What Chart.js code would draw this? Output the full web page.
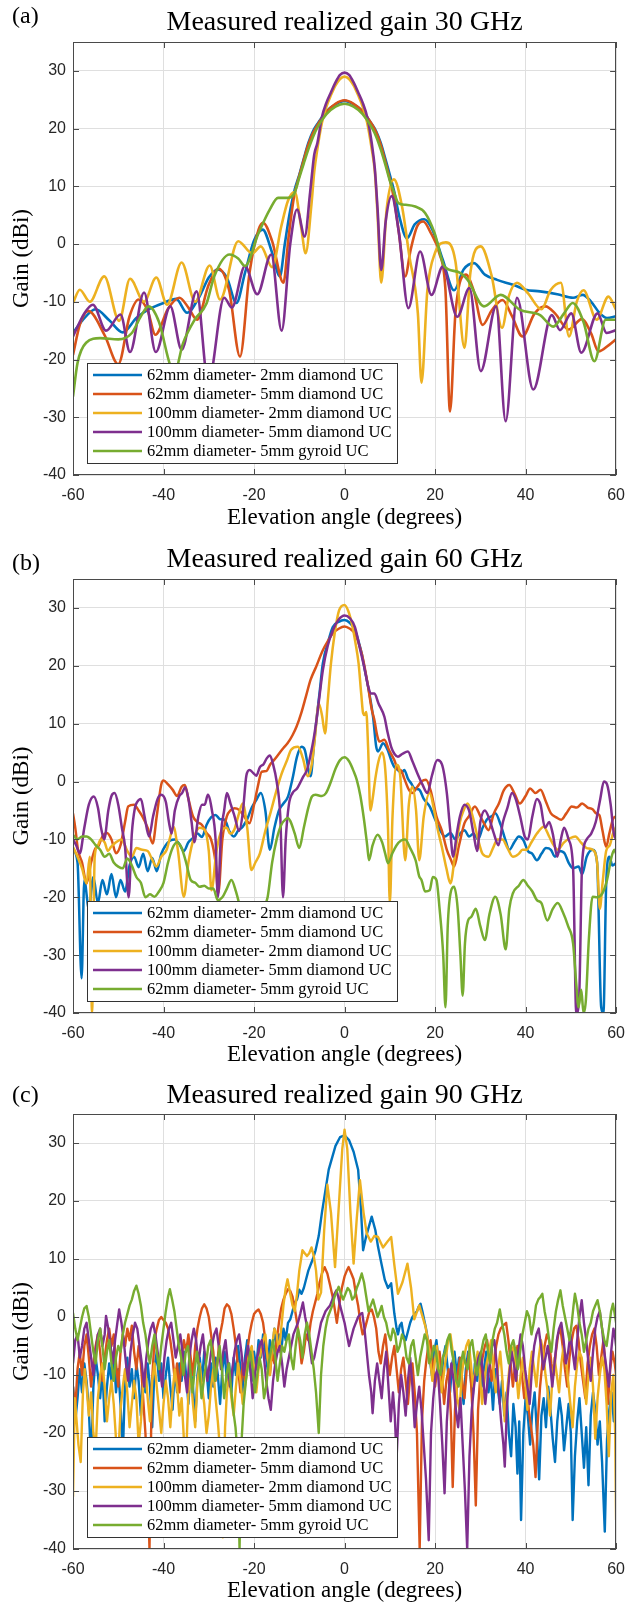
<!DOCTYPE html>
<html>
<head>
<meta charset="utf-8">
<script src="https://cdn.jsdelivr.net/npm/chart.js@4.4.1/dist/chart.umd.min.js"></script>
<style>
html,body{margin:0;padding:0;background:#fff;}
.panel{position:relative;width:636px;}
#wa{height:537px;} #wb{height:536px;} #wc{height:531px;}
canvas{display:block;}
</style>
</head>
<body>
<div class="panel" id="wa"><canvas id="ca"></canvas></div>
<div class="panel" id="wb"><canvas id="cb"></canvas></div>
<div class="panel" id="wc"><canvas id="cc"></canvas></div>
<script>
// ---------- labels, colours, ticks ----------
const SERIES_LABELS = [
  '62mm diameter- 2mm diamond UC',
  '62mm diameter- 5mm diamond UC',
  '100mm diameter- 2mm diamond UC',
  '100mm diameter- 5mm diamond UC',
  '62mm diameter- 5mm gyroid UC'
];
const SERIES_COLORS = ['#0072BD', '#D95319', '#EDB120', '#7E2F8E', '#77AC30'];
const X_TICKS = [-60, -40, -20, 0, 20, 40, 60];
const Y_TICKS = [-40, -30, -20, -10, 0, 10, 20, 30];
const PANEL_TITLES = ['Measured realized gain 30 GHz', 'Measured realized gain 60 GHz', 'Measured realized gain 90 GHz'];
const PANEL_LETTERS = ['(a)', '(b)', '(c)'];
const X_LABEL = 'Elevation angle (degrees)';
const Y_LABEL = 'Gain (dBi)';

// ---------- (a) 30 GHz : [angle, gain] ----------
const A_BLUE = [[-60,-15.4],[-58,-13.3],[-55,-11.3],[-52,-13.2],[-49,-15.3],[-46,-12.8],[-43,-11.2],[-40,-10.2],[-37.2,-9.5],[-34.8,-11.9],[-32,-9],[-30,-5.8],[-28,-4.4],[-26,-5.8],[-23.9,-10.2],[-22,-5],[-20,0.6],[-18.1,2.5],[-16,-1.5],[-14.3,-5.6],[-13.2,0],[-12.2,5],[-11,9.5],[-10,12],[-9,14.8],[-8,17.5],[-7,19.5],[-6,20.8],[-4,23],[-2,24.2],[0,24.8],[2,24.2],[4,23],[6,20.8],[7,19.5],[8,17.5],[9,14.8],[10,12],[11,9],[12.1,4.8],[13.8,1],[15.5,3.4],[17.6,4.3],[19.4,2.5],[21.7,-2.7],[24.2,-8],[26.3,-4.4],[28.6,-3.3],[31,-5.3],[33.7,-6.2],[37.4,-7.1],[40,-7.9],[43.2,-8.2],[47,-8.7],[50.5,-9.3],[52.6,-8.8],[54.5,-10],[56.3,-11.9],[58,-12.8],[60,-12.5]];
const A_RED = [[-60,-19.2],[-58.5,-14],[-56.6,-11.6],[-53,-15.8],[-50,-20.8],[-47.5,-12.5],[-45.5,-9.6],[-43.5,-11.5],[-41.8,-15.7],[-39,-11.2],[-36.5,-9.3],[-34.5,-11],[-32.6,-13.1],[-30,-7],[-27.8,-4.3],[-25.5,-8],[-23.1,-19.5],[-21,-5],[-19,2.5],[-18,3.7],[-16,0.5],[-13.5,-6.7],[-12.4,1],[-11.2,8],[-10,11.8],[-9,14.6],[-8,17.2],[-7,19.2],[-6,20.6],[-4,22.9],[-2,24.3],[0,24.9],[2,24.3],[4,23],[6,20.8],[7,19.3],[8,17.2],[9,14.3],[10,11.2],[11,7.5],[12,2],[13.4,-5.6],[14.6,-1],[16,3],[17.4,3.9],[19,2],[20.9,-1.5],[22.3,-8],[23.3,-29],[24.5,-12],[26.8,-5.3],[28.5,-8],[30.5,-14],[32.5,-11.5],[34.9,-9.7],[37,-12.5],[39.3,-16],[42,-12],[44.4,-10.8],[46.5,-12],[49.5,-14.8],[52.4,-13],[54.5,-15.5],[56.1,-18.6],[58.4,-17.5],[60,-16.5]];
const A_YELLOW = [[-60,-10.2],[-58.5,-7.9],[-56.3,-10],[-53.1,-5.6],[-49.8,-13.3],[-47.4,-6],[-44.3,-10],[-41.6,-5.8],[-39.2,-10.5],[-36,-3.2],[-33,-10],[-29.8,-3.7],[-27.5,-9.6],[-23.5,0.5],[-20.4,-1.6],[-18.5,-0.4],[-16,-4],[-14,3],[-12.5,7.5],[-11,9],[-9.6,3],[-8.6,-1.6],[-7.3,7],[-6.7,12.5],[-6,16.5],[-5,21],[-4,23.8],[-3,25.8],[-2,27.5],[-1,28.6],[0,29],[1,28.6],[2,27.5],[3,25.8],[4,23.8],[5,21],[6,16.5],[6.7,12.5],[7.3,5],[8.1,-6.7],[9.3,6],[10.9,11.2],[12.7,6.5],[14.3,-2],[16.2,-12],[17,-24],[18.3,-8],[20,-1.5],[22.4,0.3],[24.5,-3],[26.5,-18],[27.8,-5],[30.1,-0.4],[32.5,-5.5],[34.8,-14.5],[36.3,-9],[38.1,-6.7],[40.5,-8.5],[43.5,-11.3],[45.5,-8],[47.8,-6.7],[49.6,-16],[51.3,-10],[52.8,-8],[55.7,-13.1],[58.3,-9.1],[60,-11.4]];
const A_PURPLE = [[-60,-16],[-57.5,-12],[-55.6,-10.5],[-52.7,-15],[-49.5,-12.2],[-47.4,-18.7],[-44.3,-8.4],[-41.7,-18.7],[-38.5,-10.8],[-36,-18.3],[-32.7,-8.2],[-30.1,-24],[-26.6,-9.3],[-24.9,-11],[-22,-3.8],[-19.3,-8.7],[-16.2,-1.8],[-13.9,-15],[-12,0],[-10.5,6],[-8.8,1.3],[-7.6,9],[-6.7,15.5],[-6,17.5],[-5,22],[-4,24.5],[-3,26.3],[-2,28],[-1,29.3],[0,29.7],[1,29.3],[2,28],[3,26.3],[4,24.5],[5,22],[6,17.5],[6.7,13],[7.3,6],[8.1,-4.5],[9.1,4],[10.4,8.3],[12,2],[14.1,-11.1],[16.7,-1.3],[19.2,-8.8],[21.7,-3.9],[24.9,-12.6],[27.6,-7.6],[30.1,-22],[33.5,-10.8],[35.6,-30.7],[38.1,-9.3],[41.7,-25.2],[45.8,-12.3],[47.6,-14.9],[50.1,-12],[52.3,-18.8],[55.9,-12],[57.9,-15.4],[60,-14.9]];
const A_GREEN = [[-60,-26.4],[-59,-20.6],[-57.1,-17.1],[-54,-16.3],[-50,-16.5],[-47,-15.4],[-45,-12.5],[-43.3,-10.8],[-41,-13.5],[-38.5,-21],[-37.5,-22],[-35.7,-17.2],[-33.1,-13.1],[-30.5,-10.3],[-28.8,-5.6],[-25.4,-1.8],[-23.5,-2.5],[-22,-3.8],[-19,1.9],[-16.5,6],[-14.7,8],[-12.5,8],[-11.2,8.6],[-10,11.5],[-9,14],[-8,16.4],[-7,18.5],[-6,20.2],[-4,22.5],[-2,23.8],[0,24.3],[2,23.8],[4,22.5],[6,20.2],[7,18.6],[8,16.4],[9,13.8],[10,11],[11,8.8],[11.9,7.1],[13.5,6.8],[15.6,6.5],[17.8,5.4],[19.9,1.9],[22.1,-3.9],[25,-4.8],[27.2,-6.2],[30.8,-10.8],[34.5,-8.8],[38.8,-11.4],[43.2,-12.3],[46.1,-14.3],[48.5,-12],[50.4,-10.2],[52.8,-13.5],[55.2,-20.3],[57.7,-13.1],[60,-13.1]];

// ---------- (b) 60 GHz : [angle, gain] ----------
const B_BLUE = [[-60,-11.8],[-59,-14],[-58.1,-34],[-57.5,-17],[-56.5,-22],[-55.5,-16.5],[-54.5,-21],[-53.5,-17],[-52.5,-19.5],[-51.5,-16],[-50.5,-20],[-49.5,-17],[-48.5,-19],[-47.5,-14.5],[-46.5,-13],[-45.5,-14.8],[-44.5,-12.5],[-43.5,-15.5],[-42.5,-13.2],[-41.5,-15.5],[-40.5,-12.5],[-39.5,-11],[-38.5,-10.2],[-37.5,-10],[-36.5,-10.8],[-35.5,-12],[-34.5,-10.5],[-33.5,-9.8],[-32.5,-9],[-31.5,-9.6],[-30.5,-7.5],[-29.5,-6.2],[-28.5,-5.8],[-27.5,-6.5],[-26.5,-6.6],[-25.5,-8.5],[-24.5,-9.5],[-23.5,-8.5],[-22.5,-7.8],[-21.5,-6.5],[-20.5,-4.5],[-19.5,-3.2],[-18.5,-2],[-17.5,-5],[-16.5,-11.8],[-15.5,-8],[-14.5,-5],[-13.5,-3.8],[-12.5,-2.6],[-11.5,0.5],[-10.5,4.3],[-9.5,6],[-8.8,5.5],[-7.5,0.9],[-6.8,6],[-6.3,10],[-5.5,15.5],[-4.8,20.4],[-3.5,24.5],[-2.6,26.7],[-1.3,27.6],[0,27.9],[1.2,27.4],[2.3,26.2],[3,24.5],[3.8,22.1],[4.5,19.2],[5.2,16.4],[6.3,11.2],[7,6],[7.4,5.2],[8.5,6.6],[9.5,5.5],[10.3,3.7],[11,2.5],[11.8,2],[12.5,1.5],[13.2,2],[14,0.5],[14.7,-0.3],[15.5,-1.2],[16.5,-1.4],[17.5,-3],[18.8,-4.3],[20,-6.5],[21.1,-8.4],[22.2,-9.5],[23.4,-8.9],[24.5,-10],[25.5,-9],[26.5,-8.4],[27.5,-9.5],[28.5,-9],[29.5,-10],[30.5,-8],[31.5,-6.5],[32.5,-6],[33.3,-5.5],[34.5,-7.5],[35.5,-10],[36.4,-11.8],[37.5,-10.5],[38.5,-9.5],[39.5,-10.1],[40.5,-12],[41.5,-12.5],[42.5,-13.6],[43.5,-12.5],[44.5,-11.5],[45.6,-11.8],[46.5,-13],[47.5,-12],[48.6,-12.4],[49.5,-14],[50.5,-15],[51.7,-14.7],[52.5,-16],[53.5,-13],[54.8,-11.8],[55.8,-14],[56.7,-39],[57.2,-40],[57.8,-18],[58.5,-13],[59.2,-14.5],[60,-14.1]];
const B_RED = [[-60,-5.5],[-59.5,-8],[-58.9,-11.8],[-58,-14],[-57,-17.6],[-56,-14],[-55,-11.5],[-54.5,-11.3],[-53.5,-9.5],[-52.5,-8.9],[-51.5,-10],[-50.5,-12.4],[-49.5,-11],[-48.5,-7],[-47.8,-4.3],[-46.5,-4],[-45.5,-5],[-44.7,-6],[-43.5,-8],[-42.4,-10.7],[-41.5,-6],[-40.5,-0.5],[-40,0.2],[-39,-0.5],[-38,-1.4],[-37,-2.5],[-36,-0.9],[-35.3,-0.6],[-34.5,-3],[-33.5,-6],[-32.5,-7],[-31.5,-7.5],[-30.5,-8.9],[-29.5,-10],[-28.5,-14],[-27.9,-19.3],[-27,-10],[-26,-6],[-25.2,-5],[-24.3,-4.6],[-23.3,-4.9],[-22.2,-6],[-21,-7.2],[-20,-4],[-19.2,-1],[-18.3,1.7],[-17.3,1.8],[-16.4,3],[-15.6,3.7],[-14.5,4.8],[-13.5,5.8],[-12.6,6.6],[-11.5,8],[-10.6,9.5],[-9.5,12],[-8.5,14.8],[-7.5,17.6],[-6.3,19.8],[-4.8,22.7],[-3.5,24.5],[-2.6,25.6],[-1.3,26.4],[0,26.8],[1.2,26.4],[2.3,25.6],[3,24.2],[3.8,22.1],[4.5,19.5],[5.2,16.4],[6,12.5],[6.6,10.6],[7.2,8],[7.7,6.9],[8.8,7.2],[9.8,5.5],[11,3.7],[11.9,2],[12.4,2],[13.2,0.5],[14.2,-1.4],[15,-2],[16,-1],[17,0],[18,0.3],[19,-1.5],[20.3,-6],[21.5,-8.5],[22.6,-11.8],[23.5,-13.5],[24.2,-14.7],[25.3,-11],[26.5,-7.2],[27.5,-6],[28.8,-4.3],[30,-6],[31,-7.5],[31.8,-8.4],[33,-5.5],[34.1,-3.8],[35.2,-1.5],[36.4,-0.6],[37.5,-2],[38.7,-3.8],[40,-2.5],[41,-1.2],[42.2,-2],[43.3,-1.4],[44.5,-3.5],[45.6,-5.5],[46.8,-6.2],[47.9,-6.6],[49,-5.5],[50.2,-4.3],[51.3,-4.5],[52.5,-3.8],[53.7,-4.5],[54.8,-4.8],[55.6,-5.5],[56.3,-5.8],[57,-8.5],[57.8,-11.3],[58.5,-9],[59.3,-6.5],[60,-6]];
const B_YELLOW = [[-60,-11.3],[-59,-13],[-58,-15],[-57,-17.6],[-56.3,-13],[-55.8,-40],[-55.2,-13],[-54.5,-11],[-53.9,-10],[-53,-10.5],[-52.3,-12],[-51.6,-11.3],[-50.5,-10.5],[-49.3,-10],[-48,-12],[-47,-13],[-46,-11.5],[-44.7,-11.8],[-43.5,-12],[-42.5,-13.5],[-41.6,-14.7],[-40.5,-13],[-39.3,-11.8],[-38.5,-9.5],[-37.8,-7.8],[-36.8,-12],[-35.5,-19.9],[-34.5,-14],[-33.2,-9.5],[-32,-8],[-30.9,-8.4],[-30,-12],[-29.4,-18.8],[-28.3,-12],[-27.1,-8.4],[-26,-8],[-25.3,-9],[-24.4,-8.4],[-23.5,-6],[-22.5,-3.8],[-21.5,-8],[-20.6,-15.3],[-19.7,-14],[-18.7,-12.4],[-17.5,-8.5],[-16.4,-5.5],[-15.2,-2],[-14.1,0.9],[-13.6,2],[-12.8,3.5],[-11.8,5.5],[-10.3,6],[-9.2,4],[-8.1,0.9],[-7.2,3.2],[-6.5,8],[-5.7,13.5],[-5,11.5],[-4.3,8.3],[-3.7,14],[-3,20.4],[-2.2,25.5],[-1.2,29.6],[0,30.5],[0.8,29.5],[1.6,27.3],[2.4,24],[3.1,20.4],[3.7,15],[4.1,11.8],[4.4,11.5],[4.8,12],[5.2,6],[5.7,-5],[6.2,-3],[6.8,0.5],[7.5,3.5],[8.3,5],[9,2],[9.6,-8],[10,-21],[10.6,-6],[11.5,2.9],[12.3,1],[13.4,-13.6],[14.2,-4],[15,-0.9],[15.8,-5],[16.5,-13.6],[17.5,-6],[18.8,-2],[19.8,-5],[20.5,-8],[21.5,-11.3],[22.5,-15],[23.4,-17.6],[24.5,-12],[25.5,-7],[26.3,-5],[27.2,-3.8],[28.3,-6],[29.5,-10],[30.5,-12.5],[31.8,-13],[32.8,-11.5],[33.8,-10],[34.9,-10],[36,-11.5],[37.2,-13],[38.5,-12.5],[39.3,-11.8],[40.2,-11.8],[41.3,-10.5],[42.5,-9],[44,-7.8],[45.2,-9.5],[46.2,-11],[47.1,-11.8],[48.5,-10.5],[49.8,-9.8],[51,-9.5],[52.2,-10.5],[53.5,-11.5],[54.8,-11.8],[55.8,-14],[56.4,-22],[57,-17.6],[57.8,-12],[58.6,-11],[59.3,-9],[60,-7.8]];
const B_PURPLE = [[-60,-10],[-59.3,-11],[-58.5,-12.4],[-57.5,-8],[-56.5,-4],[-55.4,-2.6],[-54.5,-4.5],[-53.8,-8],[-53.1,-10],[-52.2,-5],[-51.5,-2.5],[-50.8,-2],[-50,-4],[-49.2,-8],[-48.5,-11.3],[-47.7,-20],[-47,-9],[-46.3,-4.5],[-45.8,-3.5],[-45,-3],[-44.2,-6],[-43.2,-9.5],[-42.3,-6],[-41.3,-3],[-40.5,-2.3],[-39.5,-3.5],[-38.8,-7],[-38.2,-9],[-37.5,-5],[-36.5,-2.5],[-35.9,-2],[-35.2,-1],[-34.5,-3],[-33.8,-7],[-33.2,-10.5],[-32.3,-6],[-31.5,-4],[-30.9,-4],[-30.2,-2.3],[-29.3,-5],[-28.5,-10],[-28,-20],[-27.3,-9],[-26.6,-5],[-26,-2],[-25.2,-3.8],[-24.3,-6],[-23.3,-8.5],[-22.5,-5.5],[-21.7,1],[-21,2],[-20.2,1.5],[-19.5,1],[-18.7,2.5],[-17.9,3],[-17.2,4],[-16.5,4.5],[-15.8,3],[-15,0],[-14.2,-6],[-13.6,-20],[-13,-10],[-12.3,-4],[-11.5,-2],[-10.5,-1.2],[-9.1,0.9],[-8.3,2],[-7.6,4.3],[-6.8,7.5],[-6.1,11.2],[-5.5,15],[-4.8,19.2],[-3.7,23.5],[-2.6,26.1],[-1.3,28],[0,28.7],[1.2,28.2],[2.3,26.7],[3.4,23],[4.5,19.2],[5.2,16.5],[5.9,15.2],[6.6,15.2],[7.5,13.5],[8.8,11.2],[9.5,8.5],[10.3,6],[11,4.8],[11.8,4.3],[12.8,4.8],[14,5.2],[15,3.5],[16.1,1.4],[17.2,-0.5],[18.3,-2],[19.3,1],[20.5,3.7],[21.5,3],[22.6,-2],[23.3,-8],[24,-13],[24.8,-9],[25.5,-6],[26.5,-4],[27.5,-5],[28.5,-9],[29.3,-12],[30,-7],[31,-5],[32,-6.5],[33,-9],[34,-11],[35,-7],[36,-4.5],[37,-2],[37.8,-3],[38.8,-6],[39.8,-9.5],[40.5,-10],[41.5,-6],[42.5,-3],[43.3,-4],[44.3,-8],[45.2,-7],[46,-9],[47,-13],[47.8,-10],[48.5,-8],[49.5,-10],[50.5,-15],[51.2,-40],[51.8,-38],[52.5,-14],[53.5,-10],[54.5,-9],[55.5,-7],[56.5,-3],[57.3,0],[58,-0.5],[58.8,-4],[59.5,-9],[60,-10]];
const B_GREEN = [[-60,-9.2],[-59,-10],[-58,-9.5],[-57,-9.5],[-56,-10],[-55,-11],[-54,-11.8],[-53,-13],[-52,-12.5],[-51,-14],[-50,-14.7],[-49,-15],[-48,-13.3],[-47,-14.5],[-46,-16.5],[-45,-17.5],[-44,-20],[-43,-19.5],[-42,-19.9],[-41,-19],[-40,-17.5],[-39,-14],[-38,-11.5],[-37,-10.5],[-36,-11.5],[-35,-14],[-34,-17],[-33,-17.5],[-32,-18.2],[-31,-18],[-30,-18.5],[-29,-18.5],[-28,-20.5],[-27,-20],[-26,-18.5],[-25,-17],[-24,-19],[-23,-22],[-22,-25],[-21,-25],[-20,-24],[-19,-23],[-18,-22],[-17,-20],[-16,-14],[-15,-10],[-14,-7.5],[-13,-6.5],[-12.5,-6.3],[-12,-6.8],[-11,-9],[-10,-11.5],[-9,-8],[-8,-4.5],[-7.2,-2.6],[-6.4,-2.3],[-5,-2.5],[-4.1,-2],[-3,0],[-2,2.2],[-1,3.7],[0,4.2],[1,3.5],[2,1.8],[2.7,0.3],[3.5,-2.5],[4.3,-6.6],[5,-11],[5.4,-13.6],[6.2,-11],[7.3,-9.2],[8.3,-10.5],[9,-12.5],[9.6,-14.1],[10.5,-12.5],[11.5,-11],[12.5,-10.2],[13.4,-10],[14.5,-11.5],[15.7,-13.6],[16.5,-16.4],[17,-17],[17.8,-19],[18.8,-18.8],[19.5,-16.5],[20.3,-17],[21,-22],[21.8,-30],[22.3,-39],[22.8,-25],[23.5,-19],[24.2,-18.2],[25,-22],[25.6,-30],[26.1,-37],[26.6,-28],[27.3,-24],[28,-23.4],[29,-22],[30,-25],[31,-27.4],[32,-23],[33.3,-19.9],[34.5,-23],[35.6,-29],[36.4,-22],[37.2,-19.3],[38.5,-18],[39.5,-17],[40.5,-18],[41.5,-19],[42.5,-20.5],[43.5,-21],[44.8,-24],[46,-22],[47.1,-21],[48.2,-22.5],[49.4,-25],[50.5,-28],[51.2,-35],[51.7,-39],[52.3,-36],[52.8,-40],[53.3,-38],[54,-27],[54.8,-19.9],[55.8,-20],[57,-19.3],[58,-17],[59,-13],[59.6,-11.8],[60,-12.5]];

// ---------- (c) 90 GHz : [angle, gain] ----------
const C_BLUE = [[-60,-12],[-59.5,-18],[-59,-14],[-58.5,-9],[-58,-13],[-57.5,-8],[-57,-11],[-56.5,-16],[-56,-25],[-55.5,-12],[-55,-7],[-54.5,-10],[-54,-14],[-53.5,-9],[-53,-18],[-52.5,-12],[-52,-8],[-51.5,-11],[-51,-6],[-50.5,-13],[-50,-9],[-49.5,-15],[-49,-24],[-48.5,-11],[-48,-7],[-47.5,-12],[-47,-9],[-46.5,-14],[-46,-8],[-45.5,-11],[-45,-17],[-44.5,-10],[-44,-13],[-43.5,-8],[-43,-12],[-42.5,-19],[-42,-9],[-41.5,-6],[-41,-11],[-40.5,-8],[-40,-14],[-39.5,-10],[-39,-7],[-38.5,-12],[-38,-16],[-37.5,-9],[-37,-13],[-36.5,-8],[-36,-11],[-35.5,-6],[-35,-10],[-34.5,-15],[-34,-9],[-33.5,-12],[-33,-18],[-32.5,-10],[-32,-7],[-31.5,-11],[-31,-6],[-30.5,-9],[-30,-14],[-29.5,-8],[-29,-12],[-28.5,-7],[-28,-10],[-27.5,-15],[-27,-9],[-26.5,-6],[-26,-11],[-25.5,-8],[-25,-13],[-24.5,-7],[-24,-10],[-23.5,-5],[-23,-9],[-22.5,-13],[-22,-7],[-21.5,-4],[-21,-8],[-20.5,-11],[-20,-6],[-19.5,-9],[-19,-4],[-18.5,-7],[-18,-3],[-17.5,-6],[-17,-9],[-16.5,-4],[-16,-6],[-15.5,-2],[-15,-5],[-14.5,-3],[-14,-6],[-13.5,-2],[-13,-4],[-12.5,-1],[-12,-0.4],[-11.5,1],[-11,2.5],[-10.5,3],[-10,4.7],[-9.5,4],[-9,5],[-8.5,6.5],[-8,8],[-7.5,9],[-7,10],[-6.4,11.5],[-5.7,14],[-5,18],[-3.5,25.4],[-2,29.5],[-1,31],[0,31.3],[1,30.5],[2,28.5],[3,25.4],[3.6,19],[4.1,11.5],[4.8,14],[6,17.3],[6.8,15],[7.4,12.1],[8.2,9],[8.9,6.4],[9.6,5],[10.3,5.8],[11,0.6],[11.5,-2],[11.8,-3],[12.2,-1.5],[12.6,-1],[13,-3],[13.5,-4],[14,-2.5],[14.5,-1],[15,0],[15.5,0.5],[16,1],[16.4,1.8],[16.8,2.3],[17.2,1],[17.6,-0.5],[18,-2],[18.3,-3.4],[18.8,-7],[19.3,-10],[19.8,-6],[20.3,-4],[20.8,-8],[21.3,-12],[21.8,-7],[22.3,-5],[22.8,-9],[23.3,-13],[23.8,-8],[24.3,-6],[24.8,-10],[25.3,-7],[25.8,-11],[26.3,-15],[26.8,-9],[27.3,-6],[27.8,-10],[28.3,-14],[28.8,-8],[29.3,-11],[29.8,-7],[30.3,-12],[30.8,-9],[31.3,-6],[31.8,-13],[32.3,-10],[32.8,-16],[33.3,-9],[33.8,-12],[34.3,-15],[34.8,-11],[35.3,-17],[35.8,-13],[36.3,-20],[36.8,-24],[37.3,-15],[37.8,-19],[38.2,-27],[38.6,-18],[39,-35],[39.5,-20],[40,-14],[40.5,-17],[41,-22],[41.5,-16],[42,-13],[42.5,-20],[43,-28],[43.5,-17],[44,-14],[44.5,-19],[45,-12],[45.5,-16],[46,-21],[46.5,-25],[47,-18],[47.5,-14],[48,-17],[48.5,-23],[49,-19],[49.5,-15],[50,-20],[50.4,-35],[50.9,-24],[51.4,-18],[51.9,-14],[52.4,-20],[52.9,-26],[53.4,-19],[53.9,-29],[54.4,-17],[54.9,-13],[55.4,-16],[55.9,-22],[56.4,-18],[56.9,-25],[57.5,-37],[58,-21],[58.5,-16],[59,-13],[59.5,-18],[60,-15]];
const C_RED = [[-60,-12],[-59.5,-16],[-59,-9],[-58.5,-6],[-58,-10],[-57.5,-5],[-57,-3],[-56.5,-7],[-56,-12],[-55.5,-8],[-55,-5],[-54.5,-3],[-54,-6],[-53.5,-11],[-53,-7],[-52.5,-4],[-52,-2],[-51.5,-5],[-51,-3],[-50.5,-8],[-50,-12],[-49.5,-6],[-49,-3],[-48.5,-5],[-48,-2],[-47.5,-4],[-47,-1.5],[-46.5,-6],[-46,-9],[-45.5,-5],[-45,-8],[-44.5,-14],[-44,-20],[-43.5,-28],[-43.1,-40],[-42.6,-12],[-42,-4],[-41.5,-2],[-41,-0.5],[-40.5,0],[-40,-0.5],[-39.5,-1],[-39,-2],[-38.5,-4],[-38,-7],[-37.5,-11],[-37,-8],[-36.5,-13],[-36,-7],[-35.5,-4],[-35,-6],[-34.5,-3],[-34,-7],[-33.5,-10],[-33,-5],[-32.5,-2],[-32,0],[-31.5,1.5],[-31,2.2],[-30.5,1.5],[-30,0],[-29.5,-3],[-29,-6],[-28.5,-11],[-28,-7],[-27.5,-3],[-27,-1],[-26.5,1.5],[-26,2.2],[-25.5,1.8],[-25,0.5],[-24.5,-2],[-24,-5],[-23.5,-9],[-23,-13],[-22.5,-8],[-22,-11],[-21.5,-6],[-21,-3],[-20.5,-1],[-20,0.5],[-19.5,1],[-19,1.3],[-18.5,0.5],[-18,-1],[-17.5,-4],[-17,-7],[-16.5,-10],[-16,-6],[-15.5,-8],[-15,-4],[-14.5,-1],[-14,1.5],[-13.5,3],[-13,4],[-12.5,4.8],[-12,4.5],[-11.5,3.5],[-11,1.5],[-10.5,-1],[-10,-4],[-9.5,-8],[-9,-6],[-8.5,-3],[-8,-4],[-7.5,-1],[-7,1],[-6.5,2.5],[-6,4],[-5.5,6],[-5,7.5],[-4.4,8.6],[-3.8,7.5],[-3.2,5.5],[-2.5,3],[-2,0.5],[-1.7,-1],[-1.2,2],[-0.6,5],[0,7],[0.5,8],[0.9,8.6],[1.5,7.5],[2,6.5],[2.5,4],[3,2],[3.5,-1],[4,-3],[4.5,-2],[5,-0.5],[5.5,1],[6,1.3],[6.5,0],[7,-2],[7.5,-6],[8,-8],[8.5,-5],[9,-3],[9.5,-7],[10,-10],[10.5,-7],[11,-5],[11.5,-9],[12,-13],[12.5,-9],[13,-7],[13.5,-11],[14,-15],[14.5,-10],[15,-8],[15.5,-13],[16,-20],[16.6,-40],[17.1,-18],[17.6,-11],[18,-8],[18.5,-5],[19,-4],[19.5,-8],[20,-12],[20.5,-9],[21,-6],[21.5,-10],[22,-15],[22.5,-11],[23,-9],[23.5,-17],[23.9,-29.3],[24.4,-16],[25,-10],[25.5,-7],[26,-11],[26.5,-14],[27,-9],[27.5,-6],[28,-12],[28.5,-20],[29,-32.5],[29.5,-16],[30,-10],[30.5,-7],[31,-5],[31.5,-4],[32,-7],[32.5,-11],[33,-8],[33.5,-5],[34,-3],[34.5,-2],[35,-1.5],[35.7,-1],[36.2,-4],[36.7,-8],[37.2,-12],[37.7,-8],[38.2,-5],[38.7,-7],[39.2,-10],[39.7,-14],[40.2,-11],[40.7,-16],[41.2,-19],[41.7,-22],[42.2,-27.6],[42.7,-18],[43.2,-12],[43.7,-8],[44.2,-5],[44.7,-3],[45.2,-4],[45.7,-8],[46.2,-10],[46.7,-6],[47.2,-3],[47.7,-2],[48.2,-5],[48.7,-9],[49.2,-12],[49.7,-7],[50.2,-4],[50.7,-2],[51.2,-1.5],[51.7,-4],[52.2,-8],[52.7,-11],[53.2,-14],[53.7,-8],[54.2,-5],[54.7,-3],[55.2,-2],[55.7,-5],[56.2,-10],[56.7,-7],[57.2,-4],[57.7,-9],[58.2,-15],[58.7,-9],[59.2,-6],[59.7,-8],[60,-10]];
const C_YELLOW = [[-60,-31],[-59.6,-14],[-59.2,-18],[-58.8,-22],[-58.3,-25],[-57.8,-13],[-57.4,-9],[-57,-12],[-56.5,-17],[-56,-13],[-55.5,-20],[-55,-23],[-54.5,-14],[-54,-10],[-53.5,-8],[-53,-12],[-52.5,-18],[-52,-14],[-51.5,-11],[-51,-15],[-50.5,-21],[-50,-24],[-49.5,-16],[-49,-12],[-48.5,-9],[-48,-13],[-47.5,-19],[-47,-15],[-46.5,-11],[-46,-14],[-45.5,-22],[-45,-18],[-44.5,-12],[-44,-9],[-43.5,-14],[-43,-18],[-42.5,-11],[-42,-8],[-41.5,-12],[-41,-16],[-40.5,-20],[-40,-15],[-39.5,-11],[-39,-14],[-38.5,-19],[-38,-13],[-37.5,-9],[-37,-12],[-36.5,-17],[-36,-14],[-35.5,-21],[-35,-24],[-34.5,-13],[-34,-10],[-33.5,-15],[-33,-19],[-32.5,-11],[-32,-8],[-31.5,-12],[-31,-15],[-30.5,-20],[-30,-17],[-29.5,-12],[-29,-9],[-28.5,-14],[-28,-18],[-27.5,-23],[-26.9,-38],[-26.4,-19],[-26,-13],[-25.5,-10],[-25,-14],[-24.5,-17],[-24,-12],[-23.5,-8],[-23,-11],[-22.5,-15],[-22,-12],[-21.5,-9],[-21,-6],[-20.5,-5],[-20,-9],[-19.5,-13],[-19,-9],[-18.5,-6],[-18,-4],[-17.5,-3],[-17,-7],[-16.5,-10],[-16,-5],[-15.5,-2],[-15,-3],[-14.5,-6],[-14,-2],[-13.5,2],[-13,5],[-12.6,6.5],[-12,4],[-11.5,2],[-11,1],[-10.5,4],[-10,8],[-9.3,11.5],[-8.8,11],[-8.3,10.5],[-7.8,11],[-7.3,12],[-6.8,10.5],[-6.3,8],[-5.8,3],[-5.2,4.2],[-4.5,15],[-3.8,22.8],[-3,18],[-2.1,8.6],[-1.2,20],[-0.5,29],[0,32.3],[0.6,29],[1.3,18],[2,9.2],[2.7,17],[3.4,23.6],[4.2,18],[4.9,14.4],[5.8,13],[6.6,14],[7.4,13.8],[8.5,12],[9.5,13],[10.3,13.8],[11,9],[11.8,4],[12.8,6],[13.9,9.2],[14.7,5],[15.4,-0.4],[16.5,2],[17.9,-1.7],[18.4,-4],[18.9,-7],[19.4,-11],[19.9,-8],[20.4,-5],[20.9,-9],[21.4,-13],[21.9,-10],[22.4,-7],[22.9,-4],[23.4,-3],[23.9,-6],[24.4,-10],[24.9,-14],[25.4,-16],[25.9,-10],[26.4,-7],[26.9,-5],[27.4,-4],[27.9,-8],[28.4,-12],[28.9,-9],[29.4,-6],[29.9,-10],[30.4,-15],[30.9,-11],[31.4,-8],[31.9,-6],[32.4,-4],[32.9,-9],[33.4,-13],[33.9,-9],[34.4,-6],[34.9,-11],[35.4,-18],[35.9,-13],[36.4,-9],[36.9,-6],[37.4,-5],[37.9,-9],[38.4,-14],[38.9,-10],[39.4,-7],[39.9,-11],[40.4,-16],[40.9,-9],[41.4,-6],[41.9,-9],[42.4,-12],[42.9,-7],[43.4,-4],[43.9,-6],[44.4,-10],[44.9,-13],[45.4,-17],[45.9,-11],[46.4,-7],[46.9,-10],[47.4,-13],[47.9,-8],[48.4,-5],[48.9,-7],[49.4,-11],[49.9,-15],[50.4,-19],[50.9,-12],[51.4,-8],[51.9,-6],[52.4,-7],[52.9,-11],[53.4,-15],[53.9,-10],[54.4,-7],[54.9,-12],[55.4,-21],[55.9,-14],[56.4,-10],[56.9,-7],[57.4,-9],[57.9,-15],[58.4,-24],[58.9,-13],[59.4,-10],[59.8,-20],[60,-35]];
const C_PURPLE = [[-60,-8],[-59.5,-4],[-59,-3],[-58.5,-7],[-58,-5],[-57.5,-2],[-57,-1],[-56.5,-4],[-56,-7],[-55.5,-10],[-55,-6],[-54.5,-3],[-54,-2],[-53.5,-5],[-53,-3],[-52.7,0.2],[-52.2,-2],[-51.7,-5],[-51.2,-8],[-50.7,-4],[-50.2,-1],[-49.8,1.3],[-49.3,-1],[-48.8,-4],[-48.3,-8],[-47.8,-11],[-47.3,-6],[-46.8,-3],[-46.3,-1],[-45.8,-2],[-45.3,-5],[-44.8,-8],[-44.3,-12],[-43.8,-7],[-43.3,-4],[-42.8,-2],[-42.3,-1],[-41.8,-3],[-41.3,-6],[-40.8,-9],[-40.3,-12],[-39.8,-7],[-39.3,-4],[-38.8,-2],[-38.3,-1],[-37.8,-4],[-37.3,-7],[-36.8,-5],[-36.3,-3],[-35.8,-6],[-35.3,-10],[-34.8,-13],[-34.3,-7],[-33.8,-4],[-33.3,-2],[-32.8,-4],[-32.3,-8],[-31.8,-5],[-31.3,-3],[-30.8,-7],[-30.3,-11],[-29.8,-8],[-29.3,-5],[-28.8,-3],[-28.3,-2],[-27.8,-5],[-27.3,-9],[-26.8,-6],[-26.3,-4],[-25.8,-8],[-25.3,-12],[-24.8,-9],[-24.3,-6],[-23.8,-4],[-23.3,-3],[-22.8,-6],[-22.3,-10],[-21.8,-7],[-21.3,-5],[-20.8,-9],[-20.3,-14],[-19.8,-10],[-19.3,-7],[-18.8,-5],[-18.3,-4],[-17.8,-7],[-17.3,-11],[-16.8,-14],[-16.3,-16],[-15.8,-11],[-15.3,-8],[-14.8,-6],[-14.3,-5],[-13.8,-8],[-13.3,-12],[-12.8,-9],[-12.3,-7],[-11.8,-5],[-11.3,-3],[-10.8,-2],[-10.3,-1],[-9.8,0.5],[-9.2,2.5],[-8.7,0],[-8.2,-2],[-7.7,-5],[-7.2,-8],[-6.7,-7],[-6.2,-5],[-5.7,-3],[-5.2,-1],[-4.7,0],[-4.2,1],[-3.7,1.5],[-3.2,2],[-2.7,3],[-2.2,4],[-1.8,4.6],[-1.4,3.5],[-1,2],[-0.5,0.5],[0,-1],[0.5,-3],[1,-5],[1.5,-3.5],[2,-2],[2.5,-1],[3,0],[3.5,0.5],[3.9,0.7],[4.4,-2],[4.9,-6],[5.4,-10],[5.9,-13],[6.2,-16.6],[6.7,-11],[7.2,-8],[7.7,-11],[8.2,-14],[8.7,-9],[9.2,-6],[9.7,-12],[10.2,-18],[10.7,-13],[11.1,-17],[11.5,-24.4],[12,-15],[12.5,-10],[13,-13],[13.5,-17],[14,-11],[14.5,-7],[15,-12],[15.5,-19],[16,-15],[16.5,-12],[17,-16],[17.5,-22],[18,-28],[18.6,-38.5],[19.1,-20],[19.6,-14],[20.1,-10],[20.6,-9],[21.1,-15],[21.6,-22],[22.1,-30.4],[22.6,-18],[23.1,-12],[23.6,-8],[24.1,-11],[24.6,-16],[25.1,-19],[25.6,-14],[26.1,-22],[26.6,-30],[27.1,-40],[27.6,-24],[28.1,-16],[28.6,-12],[29.1,-9],[29.6,-7],[30.1,-6],[30.6,-10],[31.1,-15],[31.6,-11],[32.1,-8],[32.6,-5],[33.1,-4],[33.6,-8],[34.1,-13],[34.6,-18],[35.1,-22],[35.4,-25.8],[35.9,-15],[36.4,-10],[36.9,-6],[37.4,-8],[37.9,-11],[38.4,-6],[38.9,-3],[39.4,-5],[39.9,-9],[40.4,-12],[40.9,-15],[41.4,-9],[41.9,-5],[42.4,-3],[42.9,-2],[43.4,-5],[43.9,-9],[44.4,-7],[44.9,-5],[45.4,-8],[45.9,-12],[46.4,-8],[46.9,-4],[47.4,-2],[47.9,-1],[48.4,-4],[48.9,-8],[49.4,-6],[49.9,-3],[50.4,-6],[50.9,-9],[51.4,-4],[51.9,0],[52.4,2.9],[52.9,-1],[53.4,-4],[53.9,-8],[54.4,-11],[54.9,-6],[55.4,-2],[55.9,0],[56.4,1],[56.9,-2],[57.4,-6],[57.9,-9],[58.4,-12],[58.9,-6],[59.4,-2],[59.7,-3],[60,-5]];
const C_GREEN = [[-60,0.7],[-59.5,-2],[-59,-4],[-58.5,-2],[-58,0],[-57.5,1.5],[-57,1.9],[-56.5,0],[-56,-3],[-55.5,-6],[-55,-8],[-54.5,-4],[-54,-2],[-53.5,-5],[-53,-9],[-52.5,-6],[-52,-4],[-51.5,-8],[-51,-11],[-50.5,-7],[-50,-5],[-49.5,-6],[-49,-3],[-48.5,-1],[-48,0.5],[-47.5,2],[-47,3],[-46.5,4.5],[-46,5.4],[-45.5,4],[-45,2],[-44.5,-1],[-44,-3],[-43.5,-6],[-43,-8],[-42.5,-5],[-42,-3],[-41.5,-6],[-41,-9],[-40.5,-5],[-40,-2],[-39.5,1],[-39,3.5],[-38.6,4.8],[-38.1,3],[-37.6,1],[-37.1,-2],[-36.6,-5],[-36.1,-7],[-35.6,-10],[-35.1,-6],[-34.6,-5],[-34.1,-9],[-33.6,-13],[-33.1,-9],[-32.6,-6],[-32.1,-9],[-31.6,-14],[-31.1,-11],[-30.6,-8],[-30.1,-5],[-29.6,-4],[-29.1,-7],[-28.6,-11],[-28.1,-8],[-27.6,-5],[-27.1,-9],[-26.6,-14],[-26.1,-10],[-25.6,-8],[-25.1,-12],[-24.6,-16],[-24.1,-19],[-23.6,-24],[-23.2,-40],[-22.8,-22],[-22.3,-15],[-21.8,-11],[-21.3,-8],[-20.8,-6],[-20.3,-9],[-19.8,-13],[-19.3,-10],[-18.8,-7],[-18.3,-9],[-17.8,-14],[-17.3,-12],[-16.8,-8],[-16.3,-6],[-15.8,-4],[-15.3,-7],[-14.8,-11],[-14.3,-8],[-13.8,-5],[-13.3,-6],[-12.8,-4],[-12.3,-3],[-11.8,-7],[-11.3,-9],[-10.8,-5],[-10.3,-2],[-9.8,-4],[-9.3,-7],[-8.8,-3],[-8.3,-1],[-7.8,-3],[-7.3,-6],[-6.8,-9],[-6.3,-13],[-5.7,-20],[-5.2,-10],[-4.7,-5],[-4.2,-2],[-3.7,0],[-3.2,1],[-2.7,2],[-2.2,3.5],[-1.7,4.5],[-1.3,5.2],[-0.8,4],[-0.3,3],[0.2,4],[0.7,5],[1.2,4.5],[1.7,3],[2.2,3.5],[2.7,5],[3.2,6],[3.8,7.5],[4.3,6],[4.8,3.5],[5.3,1],[5.8,2],[6.3,3],[6.8,1.5],[7.3,0],[7.8,1],[8.2,1.9],[8.7,0],[9.2,-1],[9.7,-3],[10.2,-4],[10.7,-2],[11.2,-3],[11.7,-6],[12.2,-5],[12.7,-3],[13.2,-4],[13.7,-7],[14.2,-8],[14.7,-5],[15.2,-4],[15.7,-7],[16.2,-10],[16.7,-7],[17.2,-5],[17.7,-3],[18.2,-4],[18.7,-8],[19.2,-7],[19.7,-5],[20.2,-6],[20.7,-9],[21.2,-10],[21.7,-7],[22.2,-6],[22.7,-4],[23.2,-3],[23.7,-6],[24.2,-8],[24.7,-11],[25.2,-12],[25.7,-8],[26.2,-6],[26.7,-8],[27.2,-9],[27.7,-5],[28.2,-4],[28.7,-7],[29.2,-10],[29.7,-8],[30.2,-6],[30.7,-4],[31.2,-3],[31.7,-6],[32.2,-8],[32.7,-4],[33.2,-2],[33.7,-1],[34.3,1.3],[34.8,-1],[35.3,-3],[35.8,-6],[36.3,-8],[36.8,-5],[37.3,-4],[37.8,-6],[38.3,-9],[38.8,-6],[39.3,-3],[39.8,-1],[40.3,1],[40.8,0],[41.3,-3],[41.8,-1],[42.3,2],[42.8,3],[43.3,3.5],[43.7,4],[44.2,1],[44.7,-1],[45.2,-4],[45.7,-6],[46.2,-2],[46.7,1],[47.2,3],[47.7,4.6],[48.2,2],[48.7,0],[49.2,-2],[49.7,-4],[50.2,-1],[50.6,2],[50.9,4],[51.4,2],[51.9,-1],[52.4,-3],[52.9,-6],[53.4,-4],[53.9,-2],[54.4,-1],[54.9,1],[55.4,2],[55.9,2.9],[56.4,1],[56.9,-2],[57.4,-4],[57.9,-5],[58.4,-2],[58.9,1],[59.3,2.3],[59.7,0.5],[60,-1]];

// ---------- drawing ----------
const GRID_COLOR = '#dfdfdf';
const BOX_COLOR = '#4a4a4a';

const decor = {
  id: 'decor',
  afterDatasetsDraw(chart, args, o) {
    const ctx = chart.ctx, ca = chart.chartArea;
    const xs = chart.scales.x, ys = chart.scales.y;
    ctx.save();
    // inward ticks
    ctx.strokeStyle = BOX_COLOR; ctx.lineWidth = 1;
    ctx.beginPath();
    X_TICKS.forEach(v => {
      const px = Math.round(xs.getPixelForValue(v)) + 0.5;
      ctx.moveTo(px, ca.top); ctx.lineTo(px, ca.top + 6);
      ctx.moveTo(px, ca.bottom); ctx.lineTo(px, ca.bottom - 6);
    });
    Y_TICKS.forEach(v => {
      const py = Math.round(ys.getPixelForValue(v)) + 0.5;
      ctx.moveTo(ca.left, py); ctx.lineTo(ca.left + 6, py);
      ctx.moveTo(ca.right, py); ctx.lineTo(ca.right - 6, py);
    });
    ctx.stroke();
    // box
    ctx.strokeRect(Math.round(ca.left) + 0.5, Math.round(ca.top) + 0.5, Math.round(ca.right - ca.left) - 1, Math.round(ca.bottom - ca.top) - 1);
    // legend
    const lx = ca.left + 14, lw = 310, lh = 100, ly = ca.bottom - 12 - lh;
    ctx.fillStyle = '#ffffff'; ctx.fillRect(lx, ly, lw, lh);
    ctx.strokeStyle = '#333333'; ctx.lineWidth = 1;
    ctx.strokeRect(Math.round(lx) + 0.5, Math.round(ly) + 0.5, lw, lh);
    ctx.font = '16.5px "Liberation Serif"';
    ctx.textAlign = 'left'; ctx.textBaseline = 'middle';
    chart.data.datasets.forEach((ds, i) => {
      const y = ly + 12 + i * 19;
      ctx.strokeStyle = ds.borderColor; ctx.lineWidth = 2.6;
      ctx.beginPath(); ctx.moveTo(lx + 6, y); ctx.lineTo(lx + 55, y); ctx.stroke();
      ctx.fillStyle = '#000';
      ctx.fillText(ds.label, lx + 60, y + 1);
    });
    // title
    const cx = (ca.left + ca.right) / 2;
    ctx.fillStyle = '#000';
    ctx.font = '28px "Liberation Serif"';
    ctx.textAlign = 'center'; ctx.textBaseline = 'middle';
    ctx.fillText(o.title, cx, 23);
    // panel letter
    ctx.font = '24px "Liberation Serif"';
    ctx.textAlign = 'left';
    ctx.fillText(o.letter, 12, o.letterY);
    // x label
    ctx.font = '23px "Liberation Serif"';
    ctx.textAlign = 'center'; ctx.textBaseline = 'alphabetic';
    ctx.fillText(X_LABEL, cx, 524);
    // y label
    ctx.save();
    ctx.translate(22, (ca.top + ca.bottom) / 2);
    ctx.rotate(-Math.PI / 2);
    ctx.textBaseline = 'middle';
    ctx.fillText(Y_LABEL, 0, 0);
    ctx.restore();
    ctx.restore();
  }
};

function makeChart(canvasId, cfg) {
  const H = cfg.height;
  return new Chart(document.getElementById(canvasId), {
    type: 'line',
    data: {
      datasets: cfg.series.map((s, i) => ({
        label: SERIES_LABELS[i],
        data: s,
        borderColor: SERIES_COLORS[i],
        backgroundColor: SERIES_COLORS[i],
        borderWidth: cfg.lw,
        pointRadius: 0,
        fill: false,
        tension: 0,
        cubicInterpolationMode: cfg.mode,
        borderJoinStyle: 'round',
        order: 4 - i,
        clip: 0
      }))
    },
    options: {
      responsive: true,
      maintainAspectRatio: false,
      animation: false,
      devicePixelRatio: 1,
      events: [],
      layout: { padding: { top: cfg.top, right: 12, bottom: 0, left: 0 } },
      plugins: {
        legend: { display: false },
        tooltip: { enabled: false },
        title: { display: false },
        decor: { title: cfg.title, letter: cfg.letter, letterY: cfg.letterY }
      },
      scales: {
        x: {
          type: 'linear', min: -60, max: 60,
          afterBuildTicks: sc => { sc.ticks = X_TICKS.map(v => ({ value: v })); },
          afterFit: sc => { sc.height = H - cfg.bottom; },
          grid: { color: GRID_COLOR, lineWidth: 1, drawTicks: false },
          border: { display: false },
          ticks: { font: { family: 'Liberation Sans', size: 16 }, color: '#262626', padding: 11, maxRotation: 0, autoSkip: false }
        },
        y: {
          type: 'linear', min: -40, max: 35,
          afterBuildTicks: sc => { sc.ticks = Y_TICKS.map(v => ({ value: v })); },
          afterFit: sc => { sc.width = 73; },
          grid: { color: GRID_COLOR, lineWidth: 1, drawTicks: false },
          border: { display: false },
          ticks: { font: { family: 'Liberation Sans', size: 16 }, color: '#262626', padding: 7, autoSkip: false }
        }
      }
    },
    plugins: [decor]
  });
}

makeChart('ca', { height: 537, top: 42, bottom: 475, title: PANEL_TITLES[0], letter: PANEL_LETTERS[0], letterY: 17, mode: 'monotone', lw: 2.6,
  series: [A_BLUE, A_RED, A_YELLOW, A_PURPLE, A_GREEN] });
makeChart('cb', { height: 536, top: 42, bottom: 476, title: PANEL_TITLES[1], letter: PANEL_LETTERS[1], letterY: 27, mode: 'monotone', lw: 2.5,
  series: [B_BLUE, B_RED, B_YELLOW, B_PURPLE, B_GREEN] });
makeChart('cc', { height: 531, top: 41, bottom: 476, title: PANEL_TITLES[2], letter: PANEL_LETTERS[2], letterY: 22.5, mode: 'default', lw: 2.4,
  series: [C_BLUE, C_RED, C_YELLOW, C_PURPLE, C_GREEN] });
</script>
</body>
</html>
